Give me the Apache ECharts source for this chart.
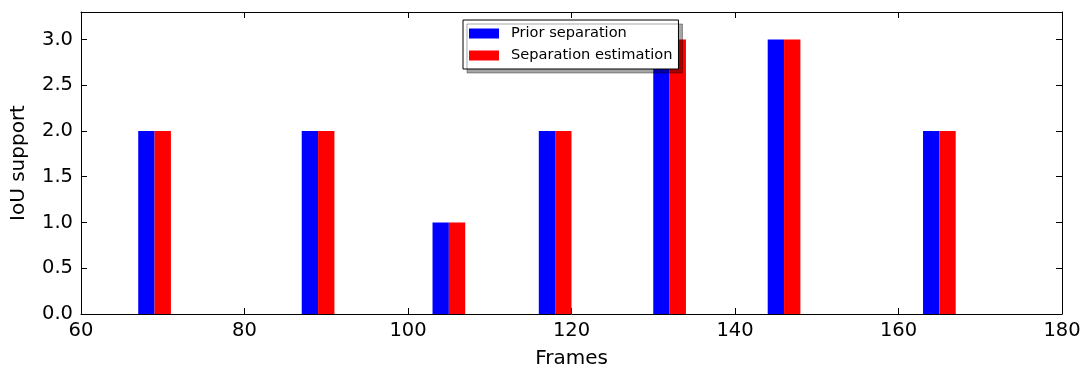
<!DOCTYPE html>
<html>
<head>
<meta charset="utf-8">
<script src="https://cdn.jsdelivr.net/npm/echarts@6/dist/echarts.min.js"></script>
<style>
  html, body { margin: 0; padding: 0; background: #fff; }
  #chart { width: 1089px; height: 374px; }
</style>
</head>
<body>
<div id="chart"></div>
<script>
// frames where both methods have a support value
var frames = [67, 87, 103, 116, 130, 144, 163];
var priorSeparation = [2, 2, 1, 2, 3, 3, 2];
var separationEstimation = [2, 2, 1, 2, 3, 3, 2];
var xTicks = [60, 80, 100, 120, 140, 160, 180];
var yTicks = [0, 0.5, 1, 1.5, 2, 2.5, 3];

var BAR_W = 2; // bar width in frame units
var FONT = "DejaVu Sans";

var chart = echarts.init(document.getElementById("chart"));

// bars drawn from x..x+BAR_W through the axis scale
function barRenderer(offset, color) {
  return function (params, api) {
    var x0 = api.value(0) + offset;
    var p0 = api.coord([x0, api.value(1)]);
    var p1 = api.coord([x0 + BAR_W, 0]);
    return {
      type: "rect",
      shape: { x: p0[0], y: p0[1], width: p1[0] - p0[0], height: p1[1] - p0[1] },
      style: { fill: color }
    };
  };
}

function pairs(vals) {
  return frames.map(function (f, i) { return [f, vals[i]]; });
}

var axisLine = { show: true, onZero: false, lineStyle: { color: "#000", width: 1 } };
var tickStyle = { show: true, inside: true, length: 6, lineStyle: { color: "#000" } };

var option = {
  animation: false,
  backgroundColor: "#fff",
  grid: { left: 81, right: 27, top: 12, bottom: 59 },
  legend: {
    orient: "vertical",
    left: 463,
    top: 20,
    padding: [6, 6, 6, 6],
    itemGap: 7,
    itemWidth: 30,
    itemHeight: 10,
    icon: "rect",
    backgroundColor: "#fff",
    borderColor: "#000",
    borderWidth: 1,
    borderRadius: 0,
    shadowColor: "rgba(0,0,0,0.35)",
    shadowBlur: 0,
    shadowOffsetX: 4,
    shadowOffsetY: 4,
    textStyle: { fontFamily: FONT, fontSize: 14.6, color: "#000", padding: [0, 0, 0, 7] },
    data: ["Prior separation", "Separation estimation"]
  },
  xAxis: [
    {
      type: "value",
      min: 60, max: 180, interval: 20,
      name: "Frames",
      nameLocation: "middle",
      nameGap: 35,
      nameTextStyle: { fontFamily: FONT, fontSize: 20, color: "#000" },
      axisLine: axisLine,
      axisTick: Object.assign({ customValues: xTicks }, tickStyle),
      axisLabel: { customValues: xTicks, fontFamily: FONT, fontSize: 19.5, color: "#000", margin: 7 },
      splitLine: { show: false }
    },
    {
      type: "value",
      position: "top",
      min: 60, max: 180, interval: 20,
      axisLine: axisLine,
      axisTick: Object.assign({ customValues: xTicks }, tickStyle),
      axisLabel: { show: false },
      splitLine: { show: false }
    }
  ],
  yAxis: [
    {
      type: "value",
      min: 0, max: 3.3,
      name: "IoU support",
      nameLocation: "middle",
      nameGap: 52,
      nameTextStyle: { fontFamily: FONT, fontSize: 20, color: "#000" },
      axisLine: axisLine,
      axisTick: Object.assign({ customValues: yTicks }, tickStyle),
      axisLabel: {
        customValues: yTicks,
        fontFamily: FONT, fontSize: 19.5, color: "#000", margin: 8,
        formatter: function (v) { return v.toFixed(1); }
      },
      splitLine: { show: false }
    },
    {
      type: "value",
      position: "right",
      min: 0, max: 3.3,
      axisLine: axisLine,
      axisTick: Object.assign({ customValues: yTicks }, tickStyle),
      axisLabel: { show: false },
      splitLine: { show: false }
    }
  ],
  series: [
    {
      name: "Prior separation",
      type: "custom",
      xAxisIndex: 0, yAxisIndex: 0,
      itemStyle: { color: "#0000ff" },
      renderItem: barRenderer(0, "#0000ff"),
      data: pairs(priorSeparation)
    },
    {
      name: "Separation estimation",
      type: "custom",
      xAxisIndex: 0, yAxisIndex: 0,
      itemStyle: { color: "#ff0000" },
      renderItem: barRenderer(BAR_W, "#ff0000"),
      data: pairs(separationEstimation)
    }
  ]
};

chart.setOption(option);
</script>
</body>
</html>
